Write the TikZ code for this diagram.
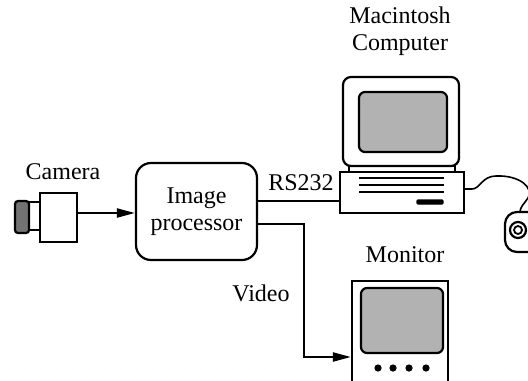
\documentclass[tikz,border=0pt]{standalone}
\usepackage{fontspec}
\setmainfont{Liberation Serif}
\usetikzlibrary{arrows.meta,positioning}

\tikzset{
  outline/.style={draw=black, line width=1.1pt},
  screen/.style={outline, fill=black!30, rounded corners=3pt},
  wire/.style={black, line width=1.1pt},
  feed/.style={wire, -{Triangle[length=9pt,width=4.5pt]}},
  caption/.style={font=\fontsize{12}{13.5}\selectfont, inner sep=0pt, align=center}
}

\begin{document}
\begin{tikzpicture}[x=0.5pt,y=-0.5pt]
        \clip (0,0) rectangle (528,380);

        % Camera: body, neck and lens
        \node[outline, minimum width=18.5pt, minimum height=24.5pt, inner sep=0pt] (cambody) at (58.5,217.5) {};
        \draw[outline, fill=white] (29,202) rectangle (40,230);
        \draw[outline, fill=black!55, rounded corners=1.5pt] (15,201) rectangle (29,233);
        \node[caption] (camlabel) at (63,172) {Camera};

        % Image processor
        \node[outline, rounded corners=7.5pt, minimum width=60.5pt, minimum height=48.5pt, caption] (proc) at (196.5,211.5) {Image\\processor};

        % Macintosh: housing, screen, stand and base unit
        \draw[outline, rounded corners=4pt] (343,77) rectangle (459,166);
        \draw[screen] (359,92) rectangle (447,152);
        \draw[outline] (349,166) rectangle (455,172);
        \node[outline, minimum width=62pt, minimum height=20.5pt, inner sep=0pt] (base) at (402,192.5) {};
        \foreach \y in {178,185,192}
            \draw[line width=0.8pt] (359,\y) -- (444,\y);
        \draw[line width=0.6pt, fill=black, rounded corners=0.5pt] (417,200) rectangle (443,204);
        \node[caption] (maclabel) at (400,31) {Macintosh\\Computer};

        % Mouse on its cable
        \draw[outline, rounded corners=6pt] (505,212) rectangle (540,252);
        \draw[line width=1.1pt] (518,230) circle (4pt);
        \draw[line width=0.9pt] (518,230) circle (2pt);
        \coordinate (cablein) at ([yshift=1.75pt]base.east);
        \draw[wire, line width=0.8pt] (cablein) -- (472,189) .. controls (480,189) and (482,176) .. (496,176)
            .. controls (520,175) and (534,188) .. (528,198) .. controls (524,204) and (520,207) .. (520,212);

        % Video monitor
        \node[outline, minimum width=48pt, minimum height=59.5pt, inner sep=0pt] (monitor) at (400,340.5) {};
        \draw[screen] (361,288) rectangle (443,353);
        \foreach \x in {378,393,409,426}
            \fill (\x,368) circle (1.8pt);
        \node[caption] (monlabel) at (405,255) {Monitor};

        % Connections
        \draw[feed] ([yshift=2.25pt]cambody.east) -- ([yshift=2.25pt]cambody.east -| proc.west);

        \coordinate (rsout) at ([yshift=5.25pt]proc.east);
        \draw[wire] (rsout) -- (rsout -| base.west);
        \node[caption] (rslabel) at (301,183) {RS232};

        \coordinate (vidout) at ([yshift=-6.25pt]proc.east);
        \coordinate (vidbend) at (304,357);
        \draw[feed] (vidout) -| (vidbend) -- (vidbend -| monitor.west);
        \node[caption] (vidlabel) at (261,293) {Video};

\end{tikzpicture}
\end{document}
